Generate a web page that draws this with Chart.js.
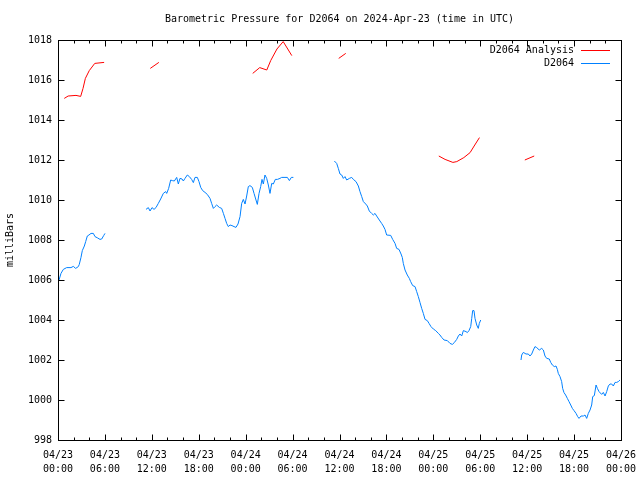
<!DOCTYPE html>
<html>
<head>
<meta charset="utf-8">
<title>Barometric Pressure D2064</title>
<script src="https://cdn.jsdelivr.net/npm/chart.js"></script>
<style>
  body { margin: 0; background: #fff; }
  #wrap { width: 640px; height: 480px; }
</style>
</head>
<body>
<div id="wrap"><canvas id="chart" width="640" height="480"></canvas></div>
<script>
// hours since 2024-04-23 00:00 UTC, null = gap in the record
const analysisHours = [0.8, 1.3, 2.3, 2.9, 3.2, 3.5, 4.0, 4.7, 5.9, null,
  11.8, 12.9, null,
  24.9, 25.8, 26.7, 27.2, 28.0, 28.8, 29.9, null,
  35.9, 36.8, null,
  48.7, 49.5, 50.5, 51.0, 51.9, 52.7, 53.3, 53.9, null,
  59.7, 60.9];
const analysisPressure = [1015.08, 1015.2, 1015.23, 1015.18, 1015.58, 1016.08, 1016.47, 1016.83, 1016.88, null,
  1016.58, 1016.88, null,
  1016.33, 1016.62, 1016.5, 1016.97, 1017.55, 1017.92, 1017.22, null,
  1017.08, 1017.33, null,
  1012.2, 1012.03, 1011.88, 1011.92, 1012.12, 1012.37, 1012.75, 1013.12, null,
  1012.0, 1012.2];

const obsHours = [
  0.13, 0.38, 0.68, 1.11, 1.66, 1.96, 2.26, 2.6, 2.72, 2.94, 3.11, 3.37, 3.54, 3.75, 3.96, 4.22, 4.52, 4.73, 5.08, 5.37, 5.59, 5.84, 6.01, null,
  11.25, 11.55, 11.77, 12.02, 12.28, 12.53, 12.83, 13.13, 13.47, 13.77, 13.9, 14.15, 14.41, 14.62, 14.88, 15.18, 15.39, 15.6, 15.86, 16.03,
  16.24, 16.54, 16.8, 17.09, 17.31, 17.52, 17.82, 18.03, 18.25, 18.5, 18.8, 19.09, 19.44, 19.65, 19.87, 20.08, 20.29, 20.63, 20.93, 21.15,
  21.36, 21.57, 21.78, 22.0, 22.25, 22.51, 22.76, 23.02, 23.28, 23.49, 23.7, 23.92, 24.13, 24.34, 24.55, 24.85, 25.07, 25.32, 25.49, 25.71,
  25.92, 26.09, 26.26, 26.47, 26.69, 26.9, 27.11, 27.33, 27.54, 27.79, 28.05, 28.39, 28.6, 29.03, 29.33, 29.59, 29.84, 30.1, null,
  35.34, 35.64, 35.85, 36.06, 36.28, 36.49, 36.7, 36.92, 37.26, 37.56, 37.77, 38.11, 38.41, 38.62, 38.84, 39.05, 39.35, 39.56, 39.81, 40.11,
  40.33, 40.54, 40.75, 41.09, 41.39, 41.6, 41.82, 42.03, 42.55, 42.8, 43.1, 43.31, 43.61, 43.87, 44.03, 44.16, 44.38, 44.67, 44.93, 45.1,
  45.36, 45.66, 45.87, 46.08, 46.3, 46.51, 46.72, 46.94, 47.23, 47.45, 47.7, 48.0, 48.3, 48.64, 48.85, 49.07, 49.37, 49.79, 50.13, 50.43,
  50.68, 50.99, 51.2, 51.41, 51.63, 51.84, 52.18, 52.35, 52.56, 52.78, 52.91, 53.03, 53.2, 53.33, 53.55, 53.75, 53.88, 54.06, null,
  59.21, 59.3, 59.51, 59.85, 60.15, 60.36, 60.58, 60.79, 61.0, 61.22, 61.55, 61.86, 62.07, 62.28, 62.5, 62.83, 63.01, 63.22, 63.47, 63.69,
  63.86, 63.98, 64.2, 64.41, 64.54, 64.71, 64.92, 65.14, 65.35, 65.57, 65.78, 65.99, 66.25, 66.46, 66.63, 66.89, 67.19, 67.4, 67.61, 67.82,
  68.04, 68.25, 68.38, 68.59, 68.81, 68.98, 69.19, 69.53, 69.74, 69.96, 70.17, 70.38, 70.6, 70.81, 71.02, 71.24, 71.45, 71.66, 71.87];
const obsPressure = [
  1006.0, 1006.33, 1006.53, 1006.62, 1006.62, 1006.68, 1006.58, 1006.67, 1006.78, 1007.13, 1007.47, 1007.7, 1007.92, 1008.2, 1008.25, 1008.33, 1008.33, 1008.17, 1008.1, 1008.03, 1008.05, 1008.22, 1008.33, null,
  1009.53, 1009.62, 1009.45, 1009.62, 1009.53, 1009.62, 1009.83, 1010.05, 1010.33, 1010.42, 1010.33, 1010.58, 1011.0, 1010.97, 1010.95, 1011.13, 1010.8, 1011.08, 1011.05, 1010.95,
  1011.08, 1011.25, 1011.17, 1011.03, 1010.87, 1011.13, 1011.13, 1010.92, 1010.63, 1010.47, 1010.38, 1010.28, 1010.08, 1009.83, 1009.58, 1009.67, 1009.75, 1009.63, 1009.58, 1009.33,
  1009.08, 1008.83, 1008.67, 1008.75, 1008.72, 1008.67, 1008.63, 1008.8, 1009.17, 1009.83, 1010.03, 1009.8, 1010.2, 1010.67, 1010.72, 1010.63, 1010.33, 1010.0, 1009.78, 1010.33,
  1010.67, 1011.03, 1010.8, 1011.25, 1011.08, 1010.75, 1010.33, 1010.83, 1010.8, 1011.03, 1011.03, 1011.08, 1011.13, 1011.13, 1011.13, 1010.97, 1011.13, 1011.13, null,
  1011.95, 1011.83, 1011.58, 1011.3, 1011.25, 1011.08, 1011.17, 1011.0, 1011.08, 1011.13, 1011.03, 1010.92, 1010.7, 1010.42, 1010.17, 1009.92, 1009.8, 1009.7, 1009.45, 1009.33,
  1009.25, 1009.33, 1009.2, 1009.0, 1008.83, 1008.7, 1008.53, 1008.25, 1008.23, 1008.03, 1007.83, 1007.58, 1007.53, 1007.3, 1007.13, 1006.83, 1006.5, 1006.25, 1006.08, 1005.92,
  1005.72, 1005.67, 1005.42, 1005.17, 1004.87, 1004.58, 1004.33, 1004.03, 1003.97, 1003.83, 1003.67, 1003.55, 1003.47, 1003.33, 1003.25, 1003.13, 1003.0, 1002.97, 1002.83, 1002.78,
  1002.87, 1003.03, 1003.2, 1003.3, 1003.2, 1003.47, 1003.42, 1003.37, 1003.47, 1003.67, 1004.08, 1004.47, 1004.47, 1004.08, 1003.75, 1003.58, 1003.83, 1004.0, null,
  1002.0, 1002.25, 1002.38, 1002.3, 1002.3, 1002.2, 1002.3, 1002.5, 1002.67, 1002.62, 1002.5, 1002.58, 1002.5, 1002.2, 1002.08, 1002.05, 1001.88, 1001.75, 1001.67, 1001.7,
  1001.53, 1001.33, 1001.17, 1000.92, 1000.58, 1000.37, 1000.25, 1000.08, 999.92, 999.75, 999.58, 999.47, 999.33, 999.17, 999.08, 999.2, 999.2, 999.25, 999.08, 999.33,
  999.5, 999.75, 1000.17, 1000.22, 1000.75, 1000.58, 1000.42, 1000.28, 1000.38, 1000.2, 1000.42, 1000.7, 1000.8, 1000.8, 1000.7, 1000.88, 1000.88, 1000.92, 1001.0];

const seriesNames = ['D2064 Analysis', 'D2064'];
const seriesColors = ['#ff0000', '#0080ff'];
const titleText = 'Barometric Pressure for D2064 on 2024-Apr-23 (time in UTC)';
const startDay = 23;

const MONO = '"DejaVu Sans Mono", "Liberation Mono", monospace';

function toPoints(hours, values) {
  return hours.map((h, i) => ({ x: h, y: values[i] }));
}

function tickLabel(v) {
  if (v % 6 !== 0) return '';
  const day = startDay + Math.floor(v / 24);
  const hr = v % 24;
  return ['04/' + day, String(hr).padStart(2, '0') + ':00'];
}

// gnuplot style frame: box, inward ticks on all four sides, key top right
const framePlugin = {
  id: 'frame',
  afterDraw(chart) {
    const ctx = chart.ctx;
    const a = chart.chartArea;
    const xs = chart.scales.x, ys = chart.scales.y;
    const L = Math.round(a.left) + 0.5, R = Math.round(a.right) + 0.5;
    const T = Math.round(a.top) + 0.5, B = Math.round(a.bottom) + 0.5;
    ctx.save();
    ctx.strokeStyle = '#000';
    ctx.lineWidth = 1;
    ctx.strokeRect(L, T, R - L, B - T);
    ctx.beginPath();
    for (let h = xs.min; h <= xs.max; h += 2) {
      const px = Math.round(xs.getPixelForValue(h)) + 0.5;
      const len = h % 6 === 0 ? 6 : 3;
      ctx.moveTo(px, B); ctx.lineTo(px, B - len);
      ctx.moveTo(px, T); ctx.lineTo(px, T + len);
    }
    for (let v = ys.min; v <= ys.max; v += 2) {
      const py = Math.round(ys.getPixelForValue(v)) + 0.5;
      ctx.moveTo(L, py); ctx.lineTo(L + 6, py);
      ctx.moveTo(R, py); ctx.lineTo(R - 6, py);
    }
    ctx.stroke();

    // key
    ctx.font = '10px ' + MONO;
    ctx.fillStyle = '#000';
    ctx.textAlign = 'right';
    ctx.textBaseline = 'middle';
    seriesNames.forEach((name, i) => {
      const y = 50 + i * 13;
      ctx.fillText(name, 574, y);
      ctx.strokeStyle = seriesColors[i];
      ctx.beginPath();
      ctx.moveTo(581, y + 0.5); ctx.lineTo(610, y + 0.5);
      ctx.stroke();
    });
    ctx.restore();
  }
};

new Chart(document.getElementById('chart'), {
  type: 'line',
  data: {
    datasets: [
      {
        label: seriesNames[0],
        data: toPoints(analysisHours, analysisPressure),
        borderColor: seriesColors[0],
        borderWidth: 1,
        pointRadius: 0,
        spanGaps: false
      },
      {
        label: seriesNames[1],
        data: toPoints(obsHours, obsPressure),
        borderColor: seriesColors[1],
        borderWidth: 1,
        pointRadius: 0,
        spanGaps: false
      }
    ]
  },
  options: {
    responsive: false,
    animation: false,
    events: [],
    layout: { padding: { left: 0, right: 19, top: 0, bottom: 0 } },
    plugins: {
      legend: { display: false },
      tooltip: { enabled: false },
      title: {
        display: true,
        text: titleText,
        fullSize: false,
        color: '#000',
        font: { family: MONO, size: 10, weight: 'normal', lineHeight: 1.2 },
        padding: { top: 13, bottom: 15 }
      }
    },
    scales: {
      x: {
        type: 'linear',
        min: 0,
        max: 72,
        grid: { display: false, drawTicks: false },
        border: { display: false },
        ticks: {
          stepSize: 2,
          autoSkip: false,
          maxRotation: 0,
          padding: 8,
          color: '#000',
          font: { family: MONO, size: 10, lineHeight: 1.4 },
          callback: tickLabel
        },
        afterFit(scale) {
          scale.height = 40;
          scale.paddingLeft = 0;
          scale.paddingRight = 0;
        }
      },
      y: {
        min: 998,
        max: 1018,
        grid: { display: false, drawTicks: false },
        border: { display: false },
        ticks: {
          stepSize: 2,
          padding: 6,
          color: '#000',
          font: { family: MONO, size: 10 },
          callback: v => String(v)
        },
        title: {
          display: true,
          text: 'milliBars',
          color: '#000',
          font: { family: MONO, size: 10 },
          padding: { top: 4, bottom: 0 }
        },
        afterFit(scale) {
          scale.width = 58;
          scale.paddingTop = 0;
          scale.paddingBottom = 0;
        }
      }
    }
  },
  plugins: [framePlugin]
});
</script>
</body>
</html>
